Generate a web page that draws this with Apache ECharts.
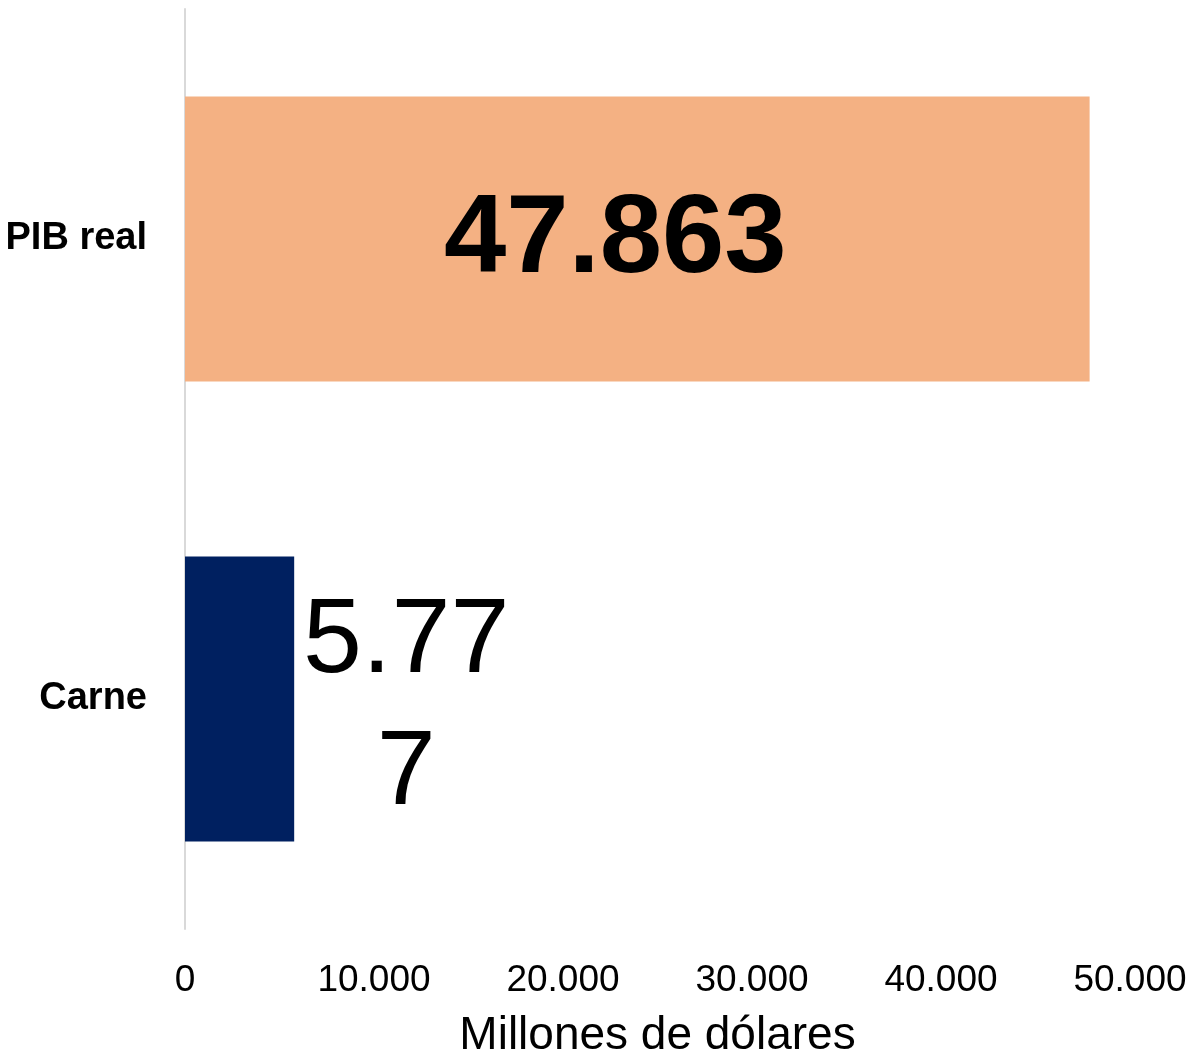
<!DOCTYPE html>
<html><head><meta charset="utf-8">
<script src="https://cdn.jsdelivr.net/npm/echarts@6/dist/echarts.min.js"></script>
<style>html,body{margin:0;padding:0;background:#fff}#c{width:1188px;height:1059px}</style>
</head><body><div id="c"></div>
<script>
const categories = ['Carne', 'PIB real'];
const values = [5777, 47863];
const barColors = ['#002060', '#F4B183'];
const xTicks = [0, 10000, 20000, 30000, 40000, 50000];
const axisTitle = 'Millones de dólares';

const fmt = v => String(v).replace(/\B(?=(\d{3})+(?!\d))/g, '.');
const FONT = '"Liberation Sans Narrow", "Liberation Sans", Arial, sans-serif';

const chart = echarts.init(document.getElementById('c'));
chart.setOption({
  animation: false,
  grid: { left: 185, right: 58, top: 9, bottom: 130, containLabel: false, outerBoundsMode: 'none' },
  xAxis: {
    type: 'value', min: xTicks[0], max: xTicks[xTicks.length - 1], interval: 10000,
    axisLine: { show: false }, axisTick: { show: false }, splitLine: { show: false },
    axisLabel: { formatter: fmt, fontFamily: FONT, fontSize: 37, color: '#000', margin: 33 },
    name: axisTitle, nameLocation: 'middle', nameGap: 84,
    nameTextStyle: { fontFamily: FONT, fontSize: 46, color: '#000' }
  },
  yAxis: {
    type: 'category', data: categories,
    axisLine: { show: true, lineStyle: { color: '#d9d9d9', width: 2 } },
    axisTick: { show: false },
    axisLabel: { fontFamily: FONT, fontSize: 38, fontWeight: 'bold', color: '#000', margin: 38 }
  },
  series: [{
    type: 'bar', barWidth: 285,
    data: values.map((v, i) => ({
      value: v,
      itemStyle: { color: barColors[i] },
      label: i === 1 ? {
        show: true, position: 'inside', offset: [-22, 2],
        formatter: p => fmt(p.value), fontFamily: FONT, fontSize: 112, fontWeight: 'bold', color: '#000'
      } : {
        show: true, position: 'right', distance: 112, align: 'center', verticalAlign: 'middle',
        offset: [0, 10],
        width: 220, overflow: 'breakAll', lineHeight: 132,
        formatter: p => fmt(p.value), fontFamily: FONT, fontSize: 106, color: '#000'
      }
    }))
  }]
});
</script></body></html>
